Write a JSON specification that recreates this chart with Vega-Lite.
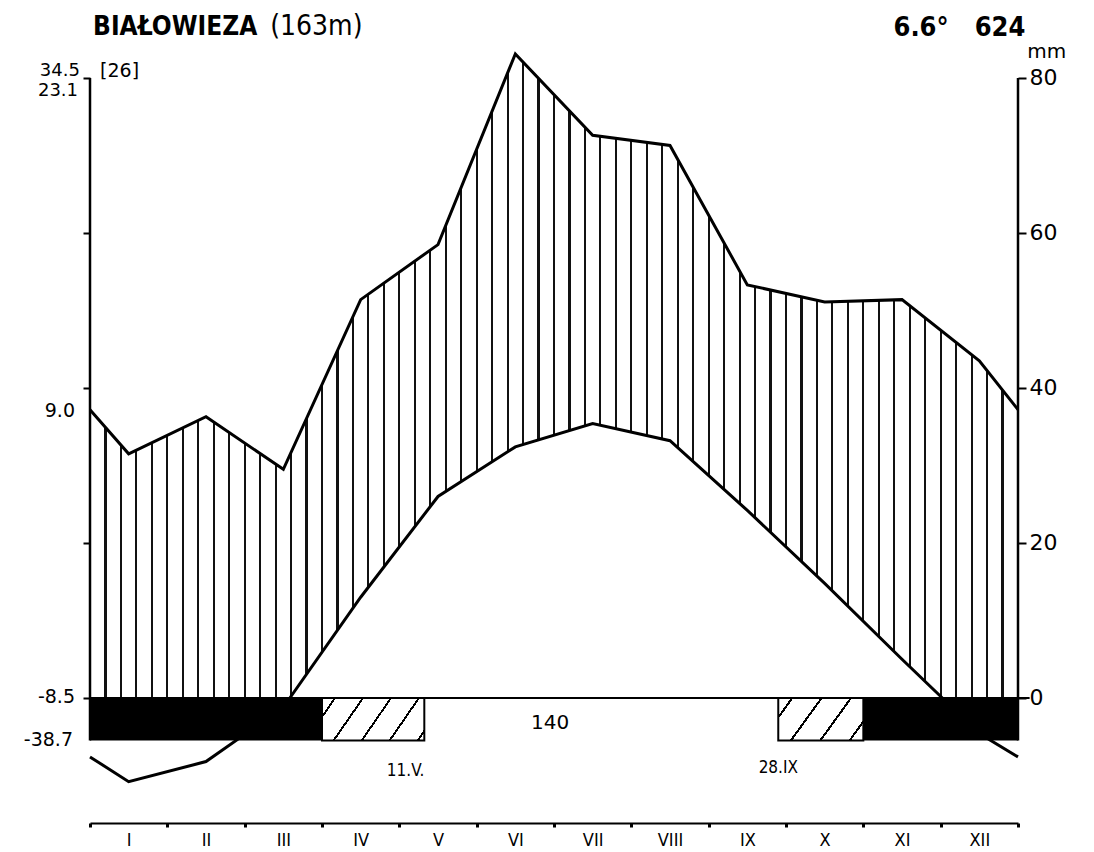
{
  "$schema": "https://vega.github.io/schema/vega-lite/v6.json",
  "width": 928,
  "height": 783,
  "autosize": {"type": "none"},
  "padding": {"left": 90, "top": 40, "right": 76, "bottom": 29},
  "background": "white",
  "config": {
    "view": {"stroke": null},
    "axis": {"grid": false},
    "text": {"font": "DejaVu Sans", "color": "black"}
  },
  "datasets": {
    "precip": [
      {"m": 0, "p": 37.2},
      {"m": 0.5, "p": 31.5},
      {"m": 1.5, "p": 36.3},
      {"m": 2.5, "p": 29.5},
      {"m": 3.5, "p": 51.4},
      {"m": 4.5, "p": 58.5},
      {"m": 5.5, "p": 83.1},
      {"m": 6.5, "p": 72.6},
      {"m": 7.5, "p": 71.3},
      {"m": 8.5, "p": 53.3},
      {"m": 9.5, "p": 51.1},
      {"m": 10.5, "p": 51.4},
      {"m": 11.5, "p": 43.5},
      {"m": 12, "p": 37.2}
    ],
    "temp": [
      {"m": 0, "t": -3.8},
      {"m": 0.5, "t": -5.4},
      {"m": 1.5, "t": -4.1},
      {"m": 2.5, "t": -0.6},
      {"m": 3.5, "t": 6.5},
      {"m": 4.5, "t": 13.0},
      {"m": 5.5, "t": 16.2},
      {"m": 6.5, "t": 17.7},
      {"m": 7.5, "t": 16.6},
      {"m": 8.5, "t": 12.1},
      {"m": 9.5, "t": 7.4},
      {"m": 10.5, "t": 2.5},
      {"m": 11.5, "t": -2.3},
      {"m": 12, "t": -3.8}
    ],
    "frost": [
      {"start": 0, "end": 3},
      {"start": 10, "end": 12}
    ],
    "possibleFrost": [
      {"side": "spring", "start": 3, "end": 4.323, "date": "11.V."},
      {"side": "autumn", "start": 8.9, "end": 10, "date": "28.IX"}
    ]
  },
  "resolve": {"scale": {"y": "independent"}, "axis": {"x": "independent", "y": "independent"}},
  "layer": [
    {
      "layer": [
        {
          "data": {"values": [{}]},
          "mark": {"type": "rect",
            "fill": {"gradient": "linear", "x1": 0, "y1": 0, "x2": 1, "y2": 0,
              "stops": [
                {"offset": 0, "color": "#111"}, {"offset": 0.0011, "color": "#111"}, {"offset": 0.0011, "color": "#fff"},
                {"offset": 0.0156, "color": "#fff"}, {"offset": 0.0156, "color": "#111"}, {"offset": 0.0178, "color": "#111"}, {"offset": 0.0178, "color": "#fff"},
                {"offset": 0.0322, "color": "#fff"}, {"offset": 0.0322, "color": "#111"}, {"offset": 0.0344, "color": "#111"}, {"offset": 0.0344, "color": "#fff"},
                {"offset": 0.0489, "color": "#fff"}, {"offset": 0.0489, "color": "#111"}, {"offset": 0.0511, "color": "#111"}, {"offset": 0.0511, "color": "#fff"},
                {"offset": 0.0656, "color": "#fff"}, {"offset": 0.0656, "color": "#111"}, {"offset": 0.0678, "color": "#111"}, {"offset": 0.0678, "color": "#fff"},
                {"offset": 0.0822, "color": "#fff"}, {"offset": 0.0822, "color": "#111"}, {"offset": 0.0844, "color": "#111"}, {"offset": 0.0844, "color": "#fff"},
                {"offset": 0.0989, "color": "#fff"}, {"offset": 0.0989, "color": "#111"}, {"offset": 0.1011, "color": "#111"}, {"offset": 0.1011, "color": "#fff"},
                {"offset": 0.1156, "color": "#fff"}, {"offset": 0.1156, "color": "#111"}, {"offset": 0.1178, "color": "#111"}, {"offset": 0.1178, "color": "#fff"},
                {"offset": 0.1322, "color": "#fff"}, {"offset": 0.1322, "color": "#111"}, {"offset": 0.1344, "color": "#111"}, {"offset": 0.1344, "color": "#fff"},
                {"offset": 0.1489, "color": "#fff"}, {"offset": 0.1489, "color": "#111"}, {"offset": 0.1511, "color": "#111"}, {"offset": 0.1511, "color": "#fff"},
                {"offset": 0.1656, "color": "#fff"}, {"offset": 0.1656, "color": "#111"}, {"offset": 0.1678, "color": "#111"}, {"offset": 0.1678, "color": "#fff"},
                {"offset": 0.1822, "color": "#fff"}, {"offset": 0.1822, "color": "#111"}, {"offset": 0.1844, "color": "#111"}, {"offset": 0.1844, "color": "#fff"},
                {"offset": 0.1989, "color": "#fff"}, {"offset": 0.1989, "color": "#111"}, {"offset": 0.2011, "color": "#111"}, {"offset": 0.2011, "color": "#fff"},
                {"offset": 0.2156, "color": "#fff"}, {"offset": 0.2156, "color": "#111"}, {"offset": 0.2178, "color": "#111"}, {"offset": 0.2178, "color": "#fff"},
                {"offset": 0.2322, "color": "#fff"}, {"offset": 0.2322, "color": "#111"}, {"offset": 0.2344, "color": "#111"}, {"offset": 0.2344, "color": "#fff"},
                {"offset": 0.2489, "color": "#fff"}, {"offset": 0.2489, "color": "#111"}, {"offset": 0.2511, "color": "#111"}, {"offset": 0.2511, "color": "#fff"},
                {"offset": 0.2656, "color": "#fff"}, {"offset": 0.2656, "color": "#111"}, {"offset": 0.2678, "color": "#111"}, {"offset": 0.2678, "color": "#fff"},
                {"offset": 0.2822, "color": "#fff"}, {"offset": 0.2822, "color": "#111"}, {"offset": 0.2844, "color": "#111"}, {"offset": 0.2844, "color": "#fff"},
                {"offset": 0.2989, "color": "#fff"}, {"offset": 0.2989, "color": "#111"}, {"offset": 0.3011, "color": "#111"}, {"offset": 0.3011, "color": "#fff"},
                {"offset": 0.3156, "color": "#fff"}, {"offset": 0.3156, "color": "#111"}, {"offset": 0.3178, "color": "#111"}, {"offset": 0.3178, "color": "#fff"},
                {"offset": 0.3322, "color": "#fff"}, {"offset": 0.3322, "color": "#111"}, {"offset": 0.3344, "color": "#111"}, {"offset": 0.3344, "color": "#fff"},
                {"offset": 0.3489, "color": "#fff"}, {"offset": 0.3489, "color": "#111"}, {"offset": 0.3511, "color": "#111"}, {"offset": 0.3511, "color": "#fff"},
                {"offset": 0.3656, "color": "#fff"}, {"offset": 0.3656, "color": "#111"}, {"offset": 0.3678, "color": "#111"}, {"offset": 0.3678, "color": "#fff"},
                {"offset": 0.3822, "color": "#fff"}, {"offset": 0.3822, "color": "#111"}, {"offset": 0.3844, "color": "#111"}, {"offset": 0.3844, "color": "#fff"},
                {"offset": 0.3989, "color": "#fff"}, {"offset": 0.3989, "color": "#111"}, {"offset": 0.4011, "color": "#111"}, {"offset": 0.4011, "color": "#fff"},
                {"offset": 0.4156, "color": "#fff"}, {"offset": 0.4156, "color": "#111"}, {"offset": 0.4178, "color": "#111"}, {"offset": 0.4178, "color": "#fff"},
                {"offset": 0.4322, "color": "#fff"}, {"offset": 0.4322, "color": "#111"}, {"offset": 0.4344, "color": "#111"}, {"offset": 0.4344, "color": "#fff"},
                {"offset": 0.4489, "color": "#fff"}, {"offset": 0.4489, "color": "#111"}, {"offset": 0.4511, "color": "#111"}, {"offset": 0.4511, "color": "#fff"},
                {"offset": 0.4656, "color": "#fff"}, {"offset": 0.4656, "color": "#111"}, {"offset": 0.4678, "color": "#111"}, {"offset": 0.4678, "color": "#fff"},
                {"offset": 0.4822, "color": "#fff"}, {"offset": 0.4822, "color": "#111"}, {"offset": 0.4844, "color": "#111"}, {"offset": 0.4844, "color": "#fff"},
                {"offset": 0.4989, "color": "#fff"}, {"offset": 0.4989, "color": "#111"}, {"offset": 0.5011, "color": "#111"}, {"offset": 0.5011, "color": "#fff"},
                {"offset": 0.5156, "color": "#fff"}, {"offset": 0.5156, "color": "#111"}, {"offset": 0.5178, "color": "#111"}, {"offset": 0.5178, "color": "#fff"},
                {"offset": 0.5322, "color": "#fff"}, {"offset": 0.5322, "color": "#111"}, {"offset": 0.5344, "color": "#111"}, {"offset": 0.5344, "color": "#fff"},
                {"offset": 0.5489, "color": "#fff"}, {"offset": 0.5489, "color": "#111"}, {"offset": 0.5511, "color": "#111"}, {"offset": 0.5511, "color": "#fff"},
                {"offset": 0.5656, "color": "#fff"}, {"offset": 0.5656, "color": "#111"}, {"offset": 0.5678, "color": "#111"}, {"offset": 0.5678, "color": "#fff"},
                {"offset": 0.5822, "color": "#fff"}, {"offset": 0.5822, "color": "#111"}, {"offset": 0.5844, "color": "#111"}, {"offset": 0.5844, "color": "#fff"},
                {"offset": 0.5989, "color": "#fff"}, {"offset": 0.5989, "color": "#111"}, {"offset": 0.6011, "color": "#111"}, {"offset": 0.6011, "color": "#fff"},
                {"offset": 0.6156, "color": "#fff"}, {"offset": 0.6156, "color": "#111"}, {"offset": 0.6178, "color": "#111"}, {"offset": 0.6178, "color": "#fff"},
                {"offset": 0.6322, "color": "#fff"}, {"offset": 0.6322, "color": "#111"}, {"offset": 0.6344, "color": "#111"}, {"offset": 0.6344, "color": "#fff"},
                {"offset": 0.6489, "color": "#fff"}, {"offset": 0.6489, "color": "#111"}, {"offset": 0.6511, "color": "#111"}, {"offset": 0.6511, "color": "#fff"},
                {"offset": 0.6656, "color": "#fff"}, {"offset": 0.6656, "color": "#111"}, {"offset": 0.6678, "color": "#111"}, {"offset": 0.6678, "color": "#fff"},
                {"offset": 0.6822, "color": "#fff"}, {"offset": 0.6822, "color": "#111"}, {"offset": 0.6844, "color": "#111"}, {"offset": 0.6844, "color": "#fff"},
                {"offset": 0.6989, "color": "#fff"}, {"offset": 0.6989, "color": "#111"}, {"offset": 0.7011, "color": "#111"}, {"offset": 0.7011, "color": "#fff"},
                {"offset": 0.7156, "color": "#fff"}, {"offset": 0.7156, "color": "#111"}, {"offset": 0.7178, "color": "#111"}, {"offset": 0.7178, "color": "#fff"},
                {"offset": 0.7322, "color": "#fff"}, {"offset": 0.7322, "color": "#111"}, {"offset": 0.7344, "color": "#111"}, {"offset": 0.7344, "color": "#fff"},
                {"offset": 0.7489, "color": "#fff"}, {"offset": 0.7489, "color": "#111"}, {"offset": 0.7511, "color": "#111"}, {"offset": 0.7511, "color": "#fff"},
                {"offset": 0.7656, "color": "#fff"}, {"offset": 0.7656, "color": "#111"}, {"offset": 0.7678, "color": "#111"}, {"offset": 0.7678, "color": "#fff"},
                {"offset": 0.7822, "color": "#fff"}, {"offset": 0.7822, "color": "#111"}, {"offset": 0.7844, "color": "#111"}, {"offset": 0.7844, "color": "#fff"},
                {"offset": 0.7989, "color": "#fff"}, {"offset": 0.7989, "color": "#111"}, {"offset": 0.8011, "color": "#111"}, {"offset": 0.8011, "color": "#fff"},
                {"offset": 0.8156, "color": "#fff"}, {"offset": 0.8156, "color": "#111"}, {"offset": 0.8178, "color": "#111"}, {"offset": 0.8178, "color": "#fff"},
                {"offset": 0.8322, "color": "#fff"}, {"offset": 0.8322, "color": "#111"}, {"offset": 0.8344, "color": "#111"}, {"offset": 0.8344, "color": "#fff"},
                {"offset": 0.8489, "color": "#fff"}, {"offset": 0.8489, "color": "#111"}, {"offset": 0.8511, "color": "#111"}, {"offset": 0.8511, "color": "#fff"},
                {"offset": 0.8656, "color": "#fff"}, {"offset": 0.8656, "color": "#111"}, {"offset": 0.8678, "color": "#111"}, {"offset": 0.8678, "color": "#fff"},
                {"offset": 0.8822, "color": "#fff"}, {"offset": 0.8822, "color": "#111"}, {"offset": 0.8844, "color": "#111"}, {"offset": 0.8844, "color": "#fff"},
                {"offset": 0.8989, "color": "#fff"}, {"offset": 0.8989, "color": "#111"}, {"offset": 0.9011, "color": "#111"}, {"offset": 0.9011, "color": "#fff"},
                {"offset": 0.9156, "color": "#fff"}, {"offset": 0.9156, "color": "#111"}, {"offset": 0.9178, "color": "#111"}, {"offset": 0.9178, "color": "#fff"},
                {"offset": 0.9322, "color": "#fff"}, {"offset": 0.9322, "color": "#111"}, {"offset": 0.9344, "color": "#111"}, {"offset": 0.9344, "color": "#fff"},
                {"offset": 0.9489, "color": "#fff"}, {"offset": 0.9489, "color": "#111"}, {"offset": 0.9511, "color": "#111"}, {"offset": 0.9511, "color": "#fff"},
                {"offset": 0.9656, "color": "#fff"}, {"offset": 0.9656, "color": "#111"}, {"offset": 0.9678, "color": "#111"}, {"offset": 0.9678, "color": "#fff"},
                {"offset": 0.9822, "color": "#fff"}, {"offset": 0.9822, "color": "#111"}, {"offset": 0.9844, "color": "#111"}, {"offset": 0.9844, "color": "#fff"},
                {"offset": 0.9989, "color": "#fff"}, {"offset": 0.9989, "color": "#111"}, {"offset": 1, "color": "#111"}
              ]}},
          "encoding": {
            "x": {"datum": 0, "type": "quantitative", "scale": {"domain": [0, 12], "nice": false, "zero": false}, "axis": null},
            "x2": {"datum": 12},
            "y": {"datum": 0, "type": "quantitative", "scale": {"domain": [-8.065, 42.45], "nice": false, "zero": false}, "axis": null},
            "y2": {"datum": 42.45}
          }
        },
        {
          "data": {"name": "temp"},
          "mark": {"type": "area", "color": "white"},
          "encoding": {
            "x": {"field": "m", "type": "quantitative", "axis": null},
            "y": {"field": "t", "type": "quantitative", "axis": null},
            "y2": {"datum": -8.065}
          }
        },
        {
          "data": {"name": "temp"},
          "mark": {"type": "line", "color": "black", "strokeWidth": 3},
          "encoding": {
            "x": {"field": "m", "type": "quantitative", "axis": null},
            "y": {"field": "t", "type": "quantitative", "axis": null}
          }
        }
      ]
    },
    {
      "resolve": {"axis": {"x": "independent", "y": "independent"}},
      "layer": [
        {
          "data": {"name": "precip"},
          "mark": {"type": "area", "color": "white"},
          "encoding": {
            "x": {"field": "m", "type": "quantitative", "scale": {"domain": [0, 12], "nice": false, "zero": false}, "axis": null},
            "y": {"field": "p", "type": "quantitative", "scale": {"domain": [-16.13, 84.9], "nice": false, "zero": false},
              "axis": {"orient": "left", "values": [0, 20, 40, 60, 80], "labels": false, "domain": false, "grid": false, "title": null,
                "tickSize": 7, "tickWidth": 2, "tickColor": "black", "zindex": 1}},
            "y2": {"datum": 84.9}
          }
        },
        {
          "data": {"name": "precip"},
          "mark": {"type": "line", "color": "black", "strokeWidth": 3},
          "encoding": {
            "x": {"field": "m", "type": "quantitative",
              "axis": {"orient": "bottom", "values": [0, 1, 2, 3, 4, 5, 6, 7, 8, 9, 10, 11, 12],
                "labelExpr": "['I','II','III','IV','V','VI','VII','VIII','IX','X','XI','XII',''][datum.value]",
                "labelOffset": 38.67, "labelFlush": false, "labelOverlap": false, "labelBound": false,
                "tickSize": 4, "tickWidth": 3, "tickColor": "black", "domainWidth": 2, "domainColor": "black",
                "labelFontSize": 18, "labelFont": "DejaVu Sans Condensed", "labelColor": "black", "labelPadding": 4,
                "grid": false, "title": null, "zindex": 1}},
            "y": {"field": "p", "type": "quantitative",
              "axis": {"orient": "right", "values": [0, 20, 40, 60, 80], "domain": false, "grid": false, "title": null,
                "tickSize": 8, "tickWidth": 2, "tickColor": "black", "labelFontSize": 22, "labelFont": "DejaVu Sans",
                "labelColor": "black", "labelPadding": 3, "zindex": 1}}
          }
        },
        {
          "data": {"values": [{}]},
          "mark": {"type": "rule", "color": "black", "strokeWidth": 2},
          "encoding": {
            "x": {"datum": 0, "type": "quantitative", "axis": null},
            "x2": {"datum": 12.15},
            "y": {"datum": 0, "type": "quantitative", "axis": null}
          }
        },
        {
          "data": {"name": "frost"},
          "mark": {"type": "rect", "color": "black"},
          "encoding": {
            "x": {"field": "start", "type": "quantitative", "axis": null},
            "x2": {"field": "end"},
            "y": {"datum": 0, "type": "quantitative", "axis": null},
            "y2": {"datum": -5.5}
          }
        },
        {
          "data": {"name": "possibleFrost"},
          "transform": [{"filter": "datum.side == 'spring'"}],
          "mark": {"type": "rect", "stroke": "black", "strokeWidth": 2,
            "fill": {"gradient": "linear", "x1": 0, "y1": 0, "x2": 1.189, "y2": 0.342,
              "stops": [
                {"offset": 0, "color": "white"},
                {"offset": 0.09, "color": "white"}, {"offset": 0.09, "color": "black"}, {"offset": 0.108, "color": "black"}, {"offset": 0.108, "color": "white"},
                {"offset": 0.302, "color": "white"}, {"offset": 0.302, "color": "black"}, {"offset": 0.32, "color": "black"}, {"offset": 0.32, "color": "white"},
                {"offset": 0.515, "color": "white"}, {"offset": 0.515, "color": "black"}, {"offset": 0.533, "color": "black"}, {"offset": 0.533, "color": "white"},
                {"offset": 0.727, "color": "white"}, {"offset": 0.727, "color": "black"}, {"offset": 0.745, "color": "black"}, {"offset": 0.745, "color": "white"},
                {"offset": 0.94, "color": "white"}, {"offset": 0.94, "color": "black"}, {"offset": 0.958, "color": "black"}, {"offset": 0.958, "color": "white"},
                {"offset": 1, "color": "white"}
              ]}},
          "encoding": {
            "x": {"field": "start", "type": "quantitative", "axis": null},
            "x2": {"field": "end"},
            "y": {"datum": 0, "type": "quantitative", "axis": null},
            "y2": {"datum": -5.5}
          }
        },
        {
          "data": {"name": "possibleFrost"},
          "transform": [{"filter": "datum.side == 'autumn'"}],
          "mark": {"type": "rect", "stroke": "black", "strokeWidth": 2,
            "fill": {"gradient": "linear", "x1": 0, "y1": 0, "x2": 1.204, "y2": 0.436,
              "stops": [
                {"offset": 0, "color": "white"},
                {"offset": 0.11, "color": "white"}, {"offset": 0.11, "color": "black"}, {"offset": 0.132, "color": "black"}, {"offset": 0.132, "color": "white"},
                {"offset": 0.363, "color": "white"}, {"offset": 0.363, "color": "black"}, {"offset": 0.385, "color": "black"}, {"offset": 0.385, "color": "white"},
                {"offset": 0.617, "color": "white"}, {"offset": 0.617, "color": "black"}, {"offset": 0.639, "color": "black"}, {"offset": 0.639, "color": "white"},
                {"offset": 0.87, "color": "white"}, {"offset": 0.87, "color": "black"}, {"offset": 0.892, "color": "black"}, {"offset": 0.892, "color": "white"},
                {"offset": 1, "color": "white"}
              ]}},
          "encoding": {
            "x": {"field": "start", "type": "quantitative", "axis": null},
            "x2": {"field": "end"},
            "y": {"datum": 0, "type": "quantitative", "axis": null},
            "y2": {"datum": -5.5}
          }
        },
        {
          "data": {"values": [{}]},
          "mark": {"type": "rule", "color": "black", "strokeWidth": 2.5},
          "encoding": {
            "x": {"datum": 0, "type": "quantitative", "axis": null},
            "y": {"datum": -5.5, "type": "quantitative", "axis": null},
            "y2": {"datum": 80}
          }
        },
        {
          "data": {"values": [{}]},
          "mark": {"type": "rule", "color": "black", "strokeWidth": 2.5},
          "encoding": {
            "x": {"datum": 12, "type": "quantitative", "axis": null},
            "y": {"datum": -5.5, "type": "quantitative", "axis": null},
            "y2": {"datum": 80}
          }
        },
        {
          "data": {"name": "possibleFrost"},
          "transform": [{"filter": "datum.side == 'spring'"}],
          "mark": {"type": "text", "align": "right", "baseline": "middle", "fontSize": 17, "font": "DejaVu Sans Condensed"},
          "encoding": {
            "x": {"field": "end", "type": "quantitative", "axis": null},
            "y": {"datum": -9.4, "type": "quantitative", "axis": null},
            "text": {"field": "date"}
          }
        },
        {
          "data": {"name": "possibleFrost"},
          "transform": [{"filter": "datum.side == 'autumn'"}],
          "mark": {"type": "text", "align": "center", "baseline": "middle", "fontSize": 17, "font": "DejaVu Sans Condensed"},
          "encoding": {
            "x": {"field": "start", "type": "quantitative", "axis": null},
            "y": {"datum": -9.05, "type": "quantitative", "axis": null},
            "text": {"field": "date"}
          }
        },
        {
          "data": {"values": [{}]},
          "mark": {"type": "text", "text": "BIAŁOWIEZA", "align": "left", "baseline": "alphabetic", "fontSize": 26, "fontWeight": "bold", "font": "DejaVu Sans Condensed"},
          "encoding": {"x": {"datum": 0.04, "type": "quantitative", "axis": null}, "y": {"datum": 85.55, "type": "quantitative", "axis": null}}
        },
        {
          "data": {"values": [{}]},
          "mark": {"type": "text", "text": "(163m)", "align": "left", "baseline": "alphabetic", "fontSize": 28, "font": "DejaVu Sans Condensed"},
          "encoding": {"x": {"datum": 2.33, "type": "quantitative", "axis": null}, "y": {"datum": 85.55, "type": "quantitative", "axis": null}}
        },
        {
          "data": {"values": [{}]},
          "mark": {"type": "text", "text": "6.6°", "align": "left", "baseline": "alphabetic", "fontSize": 27, "fontWeight": "bold", "font": "DejaVu Sans Condensed"},
          "encoding": {"x": {"datum": 10.39, "type": "quantitative", "axis": null}, "y": {"datum": 85.4, "type": "quantitative", "axis": null}}
        },
        {
          "data": {"values": [{}]},
          "mark": {"type": "text", "text": "624", "align": "left", "baseline": "alphabetic", "fontSize": 27, "fontWeight": "bold", "font": "DejaVu Sans Condensed"},
          "encoding": {"x": {"datum": 11.44, "type": "quantitative", "axis": null}, "y": {"datum": 85.4, "type": "quantitative", "axis": null}}
        },
        {
          "data": {"values": [{}]},
          "mark": {"type": "text", "text": "mm", "align": "left", "baseline": "middle", "fontSize": 20},
          "encoding": {"x": {"datum": 12.12, "type": "quantitative", "axis": null}, "y": {"datum": 83.35, "type": "quantitative", "axis": null}}
        },
        {
          "data": {"values": [{}]},
          "mark": {"type": "text", "text": "34.5", "align": "right", "baseline": "middle", "fontSize": 18},
          "encoding": {"x": {"datum": -0.13, "type": "quantitative", "axis": null}, "y": {"datum": 80.9, "type": "quantitative", "axis": null}}
        },
        {
          "data": {"values": [{}]},
          "mark": {"type": "text", "text": "[26]", "align": "left", "baseline": "middle", "fontSize": 19},
          "encoding": {"x": {"datum": 0.13, "type": "quantitative", "axis": null}, "y": {"datum": 80.9, "type": "quantitative", "axis": null}}
        },
        {
          "data": {"values": [{}]},
          "mark": {"type": "text", "text": "23.1", "align": "right", "baseline": "middle", "fontSize": 18},
          "encoding": {"x": {"datum": -0.155, "type": "quantitative", "axis": null}, "y": {"datum": 78.3, "type": "quantitative", "axis": null}}
        },
        {
          "data": {"values": [{}]},
          "mark": {"type": "text", "text": "9.0", "align": "right", "baseline": "middle", "fontSize": 19},
          "encoding": {"x": {"datum": -0.194, "type": "quantitative", "axis": null}, "y": {"datum": 37.03, "type": "quantitative", "axis": null}}
        },
        {
          "data": {"values": [{}]},
          "mark": {"type": "text", "text": "-8.5", "align": "right", "baseline": "middle", "fontSize": 19},
          "encoding": {"x": {"datum": -0.194, "type": "quantitative", "axis": null}, "y": {"datum": 0.13, "type": "quantitative", "axis": null}}
        },
        {
          "data": {"values": [{}]},
          "mark": {"type": "text", "text": "-38.7", "align": "right", "baseline": "middle", "fontSize": 19},
          "encoding": {"x": {"datum": -0.22, "type": "quantitative", "axis": null}, "y": {"datum": -5.42, "type": "quantitative", "axis": null}}
        },
        {
          "data": {"values": [{}]},
          "mark": {"type": "text", "text": "140", "align": "center", "baseline": "middle", "fontSize": 20},
          "encoding": {"x": {"datum": 5.95, "type": "quantitative", "axis": null}, "y": {"datum": -3.23, "type": "quantitative", "axis": null}}
        }
      ]
    }
  ]
}
